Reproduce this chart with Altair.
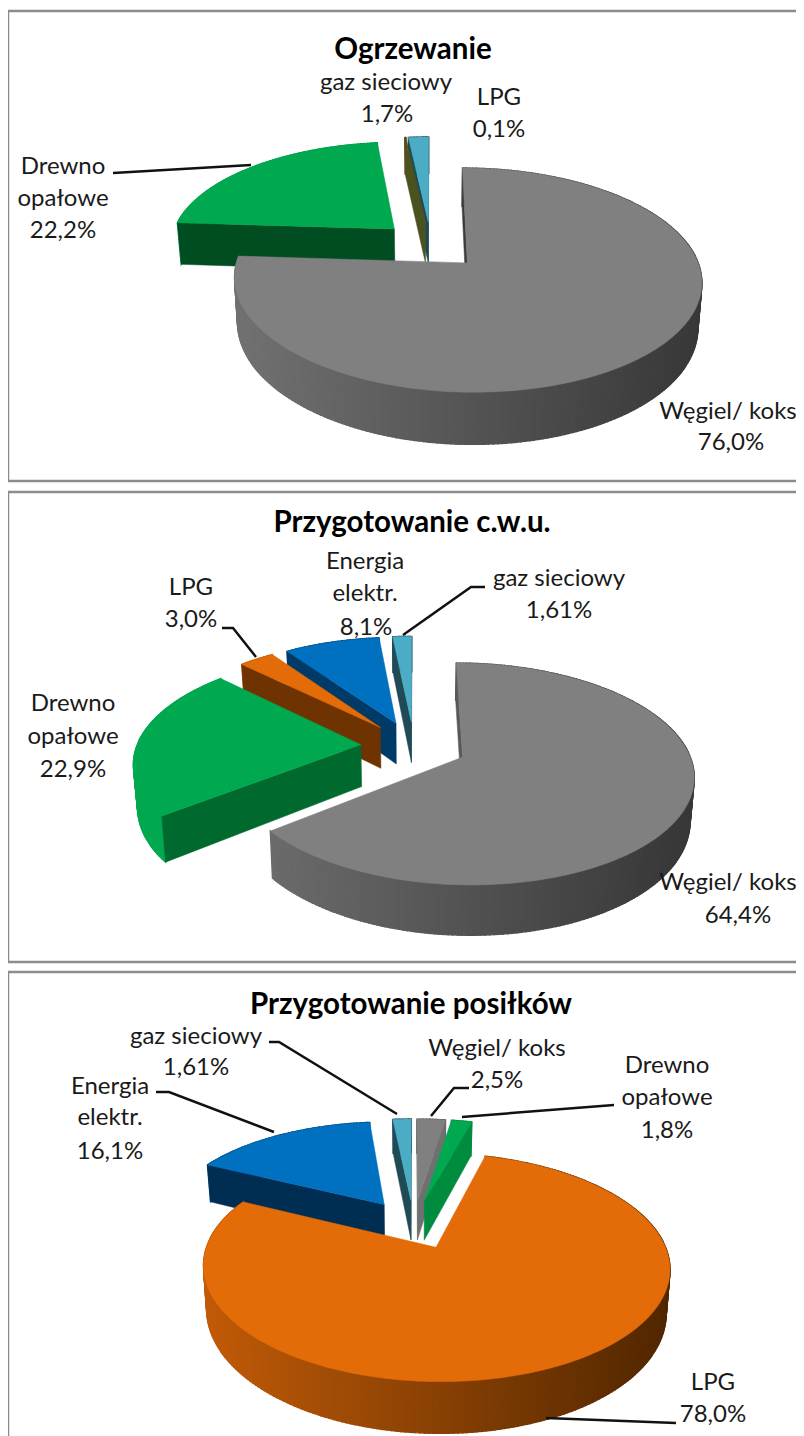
import math
import altair as alt
import pandas as pd

# ---------- values ----------
categories_1 = ["Węgiel/ koks", "Drewno opałowe", "LPG", "gaz sieciowy"]
values_1 = [76.0, 22.2, 0.1, 1.7]
categories_2 = ["Węgiel/ koks", "Drewno opałowe", "LPG", "Energia elektr.", "gaz sieciowy"]
values_2 = [64.4, 22.9, 3.0, 8.1, 1.61]
categories_3 = ["Węgiel/ koks", "Drewno opałowe", "LPG", "Energia elektr.", "gaz sieciowy"]
values_3 = [2.5, 1.8, 78.0, 16.1, 1.61]

# ---------- styles ----------
TOP = {"Węgiel/ koks": "#808080", "Drewno opałowe": "#00a94f", "LPG": "#e36c09",
       "Energia elektr.": "#0070c0", "gaz sieciowy": "#4bacc6"}
WALL = {"Węgiel/ koks": ("#757575", "#383838"), "Drewno opałowe": ("#00a850", "#006a2e"),
        "LPG": ("#c45c08", "#4f2600"), "Energia elektr.": ("#00477a", "#002e52"),
        "gaz sieciowy": ("#1f4a56", "#1f4a56")}
FACE = [
    {"Węgiel/ koks": "#3c3c3c", "Drewno opałowe": "#004d22", "LPG": "#4a5220", "gaz sieciowy": "#1f4a56"},
    {"Węgiel/ koks": "#5a5a5a", "Drewno opałowe": "#00692e", "LPG": "#6e3300", "Energia elektr.": "#003a66",
     "gaz sieciowy": "#1f4a56"},
    {"Węgiel/ koks": "#707070", "Drewno opałowe": "#008c3f", "LPG": "#6e3300", "Energia elektr.": "#002e52",
     "gaz sieciowy": "#1f4a56"},
]
# perspective camera of each pie
CAM = [
    dict(cx=431, cy=245, b=225, a=104, k=0.15, e=0.23, D=43),
    dict(cx=414, cy=746, b=224, a=105, k=0.15, e=0.238, D=42),
    dict(cx=413.5, cy=1224, b=221, a=102.5, k=0.17, e=0.24, D=41),
]
PANELS = [(categories_1, values_1), (categories_2, values_2), (categories_3, values_3)]

W, H = 788, 1428
OX, OY = 8, 8  # page margin


def hexmix(c1, c2, t):
    t = max(0.0, min(1.0, t))
    p = [int(c1[i:i + 2], 16) for i in (1, 3, 5)]
    q = [int(c2[i:i + 2], 16) for i in (1, 3, 5)]
    return "#" + "".join(f"{round(a + (b - a) * t):02x}" for a, b in zip(p, q))


def proj(c, u, v, low=False):
    s = 1 + c["k"] * v
    x = c["cx"] + c["b"] * u / s * (0.985 if low else 1)
    y = c["cy"] - c["a"] * v / s + (c["D"] / s if low else 0)
    return [x - OX, y - OY]


def poly(points, fill, sw=0.5):
    ring = [list(p) for p in points] + [list(points[0])]
    return {"type": "Feature", "properties": {"fill": fill, "sw": sw},
            "geometry": {"type": "Polygon", "coordinates": [ring]}}


def polyline(points, color):
    return {"type": "Feature", "properties": {"stroke": color},
            "geometry": {"type": "LineString", "coordinates": [[x - OX, y - OY] for x, y in points]}}


features = []
for i, (cats, vals) in enumerate(PANELS):
    c = CAM[i]
    total = sum(vals)
    slices, start = [], 0.0
    for cat, val in zip(cats, vals):
        end = start + 360 * val / total
        mid = math.radians((start + end) / 2)
        u0, v0 = c["e"] * math.sin(mid), c["e"] * math.cos(mid)
        slices.append((v0, cat, start, end, u0, v0, val))
        start = end
    slices.sort(key=lambda s: -s[0])
    cam_v = -1 / c["k"]
    for _, cat, a0, a1, u0, v0, val in slices:
        n = max(2, int((a1 - a0) / 1.0) + 1)
        th = [math.radians(a0 + (a1 - a0) * j / n) for j in range(n + 1)]
        rim = [(u0 + math.sin(t), v0 + math.cos(t)) for t in th]
        # outer wall, strip by strip so that it shades from left to right
        for j in range(n):
            (ua, va), (ub, vb) = rim[j], rim[j + 1]
            pts = [proj(c, ua, va), proj(c, ub, vb), proj(c, ub, vb, True), proj(c, ua, va, True)]
            t = ((pts[0][0] + OX) - (c["cx"] - c["b"])) / (2.2 * c["b"])
            features.append(poly(pts, hexmix(WALL[cat][0], WALL[cat][1], t), 1.4))
        # the cut faces that look towards the camera
        normals = [(-math.cos(th[0]), math.sin(th[0])), (math.cos(th[-1]), -math.sin(th[-1]))]
        for (ue, ve), (nu, nv) in zip((rim[0], rim[-1]), normals):
            if nu * (0 - u0) + nv * (cam_v - v0) > 0:
                pts = [proj(c, u0, v0), proj(c, ue, ve), proj(c, ue, ve, True), proj(c, u0, v0, True)]
                features.append(poly(pts, FACE[i][cat]))
        # top surface (a hair-thin slice shows only its dark cut face)
        top_fill = FACE[i][cat] if val < 0.5 else TOP[cat]
        features.append(poly([proj(c, u0, v0)] + [proj(c, u, v) for u, v in rim], top_fill))

# ---------- labels (text, centre x, centre y) ----------
titles = [("Ogrzewanie", 413, 50), ("Przygotowanie c.w.u.", 412, 523), ("Przygotowanie posiłków", 411, 1005)]
labels = [
    ("gaz sieciowy", 386, 83), ("1,7%", 387, 115), ("LPG", 499, 98), ("0,1%", 499, 130),
    ("Drewno", 63, 167), ("opałowe", 63, 199), ("22,2%", 63, 231),
    ("Węgiel/ koks", 728, 412), ("76,0%", 731, 443),
    ("Energia", 365, 562), ("elektr.", 365, 594), ("8,1%", 366, 628),
    ("LPG", 191, 588), ("3,0%", 191, 620), ("gaz sieciowy", 559, 579), ("1,61%", 559, 611),
    ("Drewno", 73, 704), ("opałowe", 73, 737), ("22,9%", 73, 770),
    ("Węgiel/ koks", 728, 883), ("64,4%", 738, 916),
    ("gaz sieciowy", 196, 1037), ("1,61%", 196, 1068), ("Węgiel/ koks", 497, 1049), ("2,5%", 497, 1081),
    ("Drewno", 667, 1066), ("opałowe", 667, 1098), ("1,8%", 667, 1131),
    ("Energia", 110, 1087), ("elektr.", 110, 1118), ("16,1%", 110, 1152),
    ("LPG", 713, 1383), ("78,0%", 713, 1415),
]
leaders = [
    [(113, 173), (251, 165)],
    [(485, 587), (471, 587), (403, 635)],
    [(222, 628), (233, 628), (256, 657)],
    [(269, 1042), (279, 1042), (397, 1114)],
    [(156, 1092), (169, 1092), (274, 1132)],
    [(469, 1088), (454, 1088), (431, 1116)],
    [(614, 1105), (462, 1117)],
    [(676, 1423), (546, 1418)],
]
frames = [
    [(806, 11), (8, 11), (8, 481), (806, 481)],
    [(806, 492), (8, 492), (8, 962), (806, 962)],
    [(806, 972), (8, 972), (8, 1440)],
]


def text_df(rows):
    return pd.DataFrame([{"t": t, "lon": x - OX, "lat": y - OY} for t, x, y in rows])


slices_layer = alt.Chart(alt.Data(values=features)).mark_geoshape().encode(
    fill=alt.Fill("properties.fill:N", scale=None),
    stroke=alt.Stroke("properties.fill:N", scale=None),
    strokeWidth=alt.StrokeWidth("properties.sw:Q", scale=None),
)
frame_layer = alt.Chart(alt.Data(values=[polyline(f, "#8c8c8c") for f in frames])).mark_geoshape(
    filled=False, strokeWidth=2.5, stroke="#8c8c8c")
leader_layer = alt.Chart(alt.Data(values=[polyline(f, "#000000") for f in leaders])).mark_geoshape(
    filled=False, strokeWidth=2.5, stroke="#111111")
label_layer = alt.Chart(text_df(labels)).mark_text(
    font="Lato", fontSize=24, color="#1a1a1a", baseline="middle", align="center", clip=True
).encode(longitude="lon:Q", latitude="lat:Q", text="t:N")
title_layer = alt.Chart(text_df(titles)).mark_text(
    font="Lato", fontSize=29.5, fontWeight="bold", color="#000000", baseline="middle", align="center", clip=True
).encode(longitude="lon:Q", latitude="lat:Q", text="t:N")

chart = alt.layer(frame_layer, slices_layer, leader_layer, label_layer, title_layer).project(
    type="identity", scale=1, translate=[0, 0]
).properties(
    width=W, height=H, padding=0, autosize=alt.AutoSizeParams(type="none"), background="white"
).configure_view(stroke=None)

chart.save("out.html", embed_options={"renderer": "svg", "actions": False})
